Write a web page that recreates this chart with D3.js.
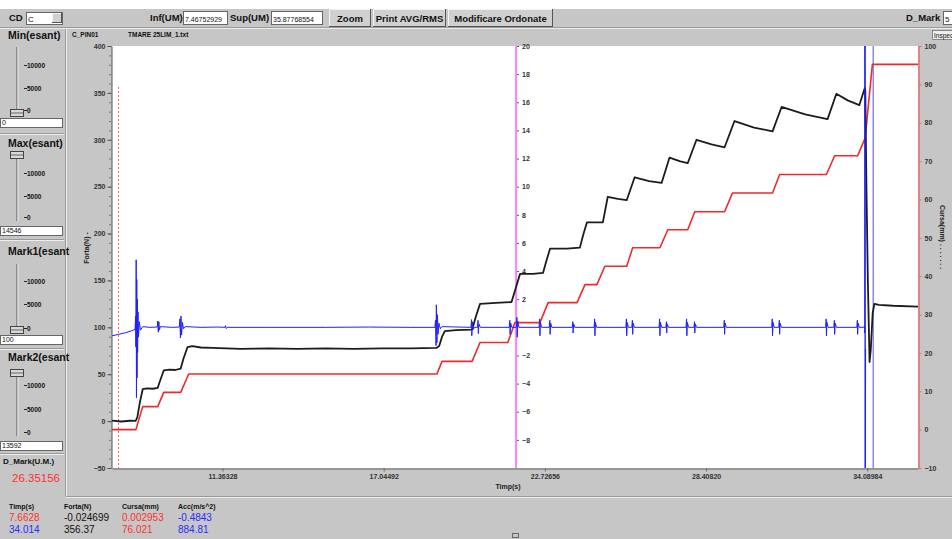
<!DOCTYPE html>
<meta charset="utf-8">
<html>
<head>
<style>
  body { margin: 0; background: #fff; }
  svg { display: block; font-family: "Liberation Sans", Arial, sans-serif; }
</style>
</head>
<body>
<svg width="952" height="539"></svg>
<script src="https://d3js.org/d3.v7.min.js"></script>
<script>

// ---- data ----
var timeDomain = [7.467529297, 35.87768554];
var timeTicks = [11.36328, 17.04492, 22.72656, 28.40820, 34.08984];
var fortaTicks = [400, 350, 300, 250, 200, 150, 100, 50, 0, -50];
var accTicks = [20, 18, 16, 14, 12, 10, 8, 6, 4, 2, -2, -4, -6, -8];
var cursaTicks = [100, 90, 80, 70, 60, 50, 40, 30, 20, 10, 0, -10];

// cursors: mark1, mark2, second blue line, magenta (acc axis)
var mark1Time = 7.6628;
var mark2Time = 34.014;
var blueCursor2 = 34.30;
var accAxisTime = 21.71;

// Forta(N) - black
var forta = [
  [7.47,0.5],[7.8,-0.4],[8.1,0.4],[8.3,0.2],[8.36,4],[8.45,20],[8.55,34],[8.7,35],[8.9,34.5],[9.08,35.5],
  [9.15,42],[9.29,54],[9.5,55],[9.7,54.5],[9.89,56],[9.98,66],[10.13,79],[10.3,80],[10.6,78.5],[11.0,78],
  [12,77],[13,77.5],[14,77],[15,77.5],[16,77],[17,77.5],[18,77.5],[18.9,78],[19.0,80],[19.1,90],
  [19.2,96],[19.6,97],[20.16,97.5],[20.3,112],[20.44,125],[21.0,126],[21.55,127],[21.7,142],[21.85,157],[22.3,157],
  [22.66,158],[22.78,171],[22.91,184],[23.5,184],[23.96,185],[24.08,199],[24.21,212],[24.77,212],[24.94,239],[25.3,237],
  [25.61,235.6],[25.89,260],[26.4,256],[26.84,254],[27.12,281],[27.5,277],[27.76,275],[28.07,300],[28.6,295],[29.06,292],
  [29.41,320],[30.1,313],[30.75,309],[31.07,335],[31.9,327],[32.69,322],[33.0,349],[33.4,342],[33.81,337],[34.0,355],
  [34.02,353],[34.06,250],[34.11,150],[34.17,63],[34.21,75],[34.28,115],[34.34,125],[34.5,124],[35.0,123],[35.88,122]
];

// Cursa(mm) - red
var cursa = [
  [7.47,0.0],[8.31,0.0],[8.55,6.0],[9.08,6.0],[9.29,9.7],[9.89,9.7],[10.17,14.5],[18.92,14.5],[19.10,17.8],[20.16,17.8],
  [20.44,22.7],[21.42,22.7],[21.67,27.9],[22.55,27.9],[22.84,33.1],[23.86,33.1],[24.14,37.8],[24.56,37.8],[24.84,42.6],[25.61,42.6],
  [25.82,47.4],[26.78,47.4],[27.06,52.1],[27.76,52.1],[28.01,56.8],[29.06,56.8],[29.34,61.7],[30.75,61.7],[31.00,66.5],[32.65,66.5],
  [32.94,71.4],[33.75,71.4],[34.014,76.0],[34.27,95.2],[35.88,95.2]
];

// Acc(m/s^2) - blue
var acc = [
  [7.47,-0.6],[7.7,-0.5],[7.95,-0.38],[8.15,-0.25],[8.28,-0.15],
  [8.30,0.8],[8.31,-1.4],[8.32,4.8],[8.33,-5.0],[8.34,3.4],[8.35,-3.6],[8.36,2.0],[8.37,-1.8],[8.385,1.1],[8.40,-0.7],[8.43,0.4],[8.47,-0.2],[8.55,0.05],
  [8.8,0.0],[9.06,0.02],[9.08,0.45],[9.10,-0.35],[9.12,0.4],[9.14,-0.2],[9.17,0.05],
  [9.6,0.0],[9.84,0.02],[9.86,0.6],[9.88,-0.75],[9.90,0.8],[9.92,-0.55],[9.95,0.35],[9.99,-0.1],[10.05,0.05],
  [10.6,0.0],[11.2,0.02],[11.45,0.0],[11.47,0.12],[11.49,-0.08],[11.55,0.0],
  [13,0.0],[15,0.0],[16.5,0.02],[18.0,0.0],[18.85,0.0],
  [18.87,0.5],[18.89,-1.3],[18.90,1.6],[18.92,-1.1],[18.94,0.9],[18.96,-0.5],[18.99,0.3],[19.04,-0.1],[19.1,0.05],
  [20.12,0.0],[20.14,0.55],[20.15,-0.6],[20.17,0.4],[20.2,-0.15],[20.25,0.0],
  [20.35,0.0],[20.37,0.5],[20.38,-0.45],[20.40,0.25],[20.45,0.0],
  [21.47,0.0],[21.49,0.5],[21.50,-0.5],[21.52,0.3],[21.56,0.0],
  [21.72,0.0],[21.74,0.7],[21.75,-0.7],[21.77,0.45],[21.81,0.0],
  [22.52,0.0],[22.54,0.6],[22.55,-0.6],[22.57,0.35],[22.61,0.0],
  [22.88,0.0],[22.90,0.5],[22.91,-0.5],[22.93,0.3],[22.97,0.0],
  [23.69,0.0],[23.71,0.4],[23.72,-0.4],[23.74,0.25],[23.78,0.0],
  [24.46,0.0],[24.48,0.6],[24.49,-0.6],[24.51,0.35],[24.55,0.0],
  [25.58,0.0],[25.60,0.6],[25.61,-0.6],[25.63,0.35],[25.67,0.0],
  [25.79,0.0],[25.81,0.5],[25.82,-0.5],[25.84,0.3],[25.88,0.0],
  [26.75,0.0],[26.77,0.6],[26.78,-0.6],[26.80,0.35],[26.84,0.0],
  [26.99,0.0],[27.01,0.4],[27.02,-0.4],[27.04,0.25],[27.08,0.0],
  [27.70,0.0],[27.72,0.6],[27.73,-0.6],[27.75,0.35],[27.79,0.0],
  [27.98,0.0],[28.00,0.4],[28.01,-0.4],[28.03,0.25],[28.07,0.0],
  [29.03,0.0],[29.05,0.5],[29.06,-0.5],[29.08,0.3],[29.12,0.0],
  [30.72,0.0],[30.74,0.6],[30.75,-0.6],[30.77,0.35],[30.81,0.0],
  [30.97,0.0],[30.99,0.5],[31.00,-0.5],[31.02,0.3],[31.06,0.0],
  [32.62,0.0],[32.64,0.6],[32.65,-0.6],[32.67,0.35],[32.71,0.0],
  [32.91,0.0],[32.93,0.5],[32.94,-0.5],[32.96,0.3],[33.00,0.0],
  [33.72,0.0],[33.74,0.5],[33.75,-0.5],[33.77,0.3],[33.81,0.0],
  [33.96,0.0],[33.99,0.1],[34.0,-0.4],[34.008,24],[34.02,-14],[34.03,-1.5]
];

// readouts under the chart
var readHeaders = ["Timp(s)", "Forta(N)", "Cursa(mm)", "Acc(m/s^2)"];
var readRow1 = ["7.6628", "-0.024699", "0.002953", "-0.4843"];
var readRow2 = ["34.014", "356.37", "76.021", "884.81"];
var readColors1 = ["#ff3030", "#111", "#ff3030", "#2a2aff"];
var readColors2 = ["#2a2aff", "#111", "#ff3030", "#2a2aff"];

var gray = "#c6c6c6";
var svg = d3.select("svg");
var W = 952, H = 539;
var plot = {l: 112, r: 918, t: 46, b: 468};

// ---- window chrome ----
svg.append("rect").attr("width", W).attr("height", H).attr("fill", gray);
svg.append("rect").attr("width", W).attr("height", 9).attr("fill", "#fff");

function hline(x1, x2, y, c) {
  svg.append("line").attr("x1", x1).attr("x2", x2).attr("y1", y).attr("y2", y).attr("stroke", c);
}
function vline(x, y1, y2, c) {
  svg.append("line").attr("x1", x).attr("x2", x).attr("y1", y1).attr("y2", y2).attr("stroke", c);
}
function label(x, y, txt, size, weight, color, anchor) {
  return svg.append("text").attr("x", x).attr("y", y).attr("font-size", size)
    .attr("font-weight", weight || "normal").attr("fill", color || "#111")
    .attr("text-anchor", anchor || "start").text(txt);
}
function button(x, y, w, h, txt) {
  svg.append("rect").attr("x", x).attr("y", y).attr("width", w).attr("height", h).attr("fill", "#d0d0d0");
  hline(x, x + w, y + 0.5, "#f4f4f4");
  vline(x + 0.5, y, y + h, "#f4f4f4");
  hline(x, x + w, y + h - 0.5, "#555");
  vline(x + w - 0.5, y, y + h, "#555");
  label(x + w / 2, y + h / 2 + 3.5, txt, 9.5, "bold", "#111", "middle");
}
function inputBox(x, y, w, h, txt, size) {
  svg.append("rect").attr("x", x + 0.5).attr("y", y + 0.5).attr("width", w).attr("height", h)
    .attr("fill", "#fff").attr("stroke", "#666");
  label(x + 2, y + h - 2, txt, size || 7);
}

// toolbar
label(9, 21, "CD", 9.5, "bold");
inputBox(26, 12, 36, 12, "C", 8);
button(52, 13, 10, 10, "");
label(150, 21, "Inf(UM)", 9.5, "bold");
inputBox(183, 11, 44, 13, "7.46752929", 7);
label(230, 21, "Sup(UM)", 9.5, "bold");
inputBox(271, 11, 51, 13, "35.87768554", 7);
button(329, 9, 42, 18, "Zoom");
button(373, 9, 73, 18, "Print AVG/RMS");
button(448, 9, 105, 18, "Modificare Ordonate");
label(906, 21, "D_Mark", 9.5, "bold");
inputBox(943, 11, 12, 13, "5", 8);
hline(0, W, 27.5, "#9a9a9a");
hline(0, W, 28.5, "#ececec");

// left panel
vline(65.5, 29, 496, "#9a9a9a");
vline(66.5, 29, 496, "#ececec");

var sliders = [
  {title: "Min(esant)", ty: 39, track: [47, 116], thumb: 113, ticks: [68, 91, 113], box: 118, value: "0"},
  {title: "Max(esant)", ty: 147, track: [152, 221], thumb: 155, ticks: [176, 199, 220], box: 226, value: "14546"},
  {title: "Mark1(esant", ty: 255, track: [264, 333], thumb: 330, ticks: [284, 307, 331], box: 335, value: "100"},
  {title: "Mark2(esant", ty: 361, track: [370, 436], thumb: 373, ticks: [388, 412, 435], box: 441, value: "13592"}
];
var tickNames = ["10000", "5000", "0"];
sliders.forEach(function(s) {
  label(8, s.ty, s.title, 10.5, "bold");
  vline(17, s.track[0], s.track[1], "#555");
  vline(18, s.track[0], s.track[1], "#f0f0f0");
  s.ticks.forEach(function(ty, i) {
    hline(24, 27, ty - 2.5, "#222");
    label(27, ty, tickNames[i], 6.5, "bold");
  });
  svg.append("rect").attr("x", 10.5).attr("y", s.thumb - 3.5).attr("width", 13).attr("height", 7)
    .attr("fill", "#d8d8d8").attr("stroke", "#444");
  hline(11, 23, s.thumb, "#666");
  inputBox(0, s.box, 62, 9, s.value, 7);
});
[133, 239, 348, 453].forEach(function(y) {
  hline(0, 64, y + 0.5, "#9a9a9a");
  hline(0, 64, y + 1.5, "#ececec");
});
label(3, 464, "D_Mark(U.M.)", 8, "bold");
label(12, 482, "26.35156", 11.5, "normal", "#ff3030");

// bottom readouts
hline(66, W, 496.5, "#9a9a9a");
hline(66, W, 497.5, "#ececec");
var readX = [9, 64, 122, 178];
readHeaders.forEach(function(t, i) { label(readX[i], 509, t, 7, "bold"); });
readRow1.forEach(function(t, i) { label(readX[i], 521, t, 10, "normal", readColors1[i]); });
readRow2.forEach(function(t, i) { label(readX[i], 533, t, 10, "normal", readColors2[i]); });
svg.append("rect").attr("x", 512.5).attr("y", 533.5).attr("width", 6).attr("height", 4)
  .attr("fill", "none").attr("stroke", "#666");

// chart titles
label(72, 37, "C_PIN01", 6.5, "bold");
label(128, 37, "TMARE 25LIM_1.txt", 6.5, "bold");
svg.append("rect").attr("x", 932.5).attr("y", 30.5).attr("width", 22).attr("height", 9)
  .attr("fill", "#eee").attr("stroke", "#888");
label(934, 38, "Inspec", 6.5);

// ---- plot ----
svg.append("rect").attr("x", plot.l).attr("y", plot.t).attr("width", plot.r - plot.l)
  .attr("height", plot.b - plot.t).attr("fill", "#fff");

var x = d3.scaleLinear().domain(timeDomain).range([plot.l, plot.r]);
var yF = d3.scaleLinear().domain([-50, 400]).range([plot.b, plot.t]);
var yA = d3.scaleLinear().domain([-10, 20]).range([plot.b, plot.t]);
var yC = d3.scaleLinear().domain([-10, 100]).range([plot.b, plot.t]);

function styleAxis(g, color) {
  g.selectAll("text").attr("font-size", 7).attr("font-weight", "bold").attr("fill", "#333")
    .attr("font-family", "Liberation Sans, Arial, sans-serif");
  g.selectAll("line").attr("stroke", color);
  g.select(".domain").attr("stroke", color);
}

// left axis (Forta)
var gMinor = svg.append("g").attr("transform", "translate(" + (plot.l - 1) + ",0)")
  .call(d3.axisLeft(yF).tickValues(yF.ticks(45)).tickSize(2).tickSizeOuter(0).tickFormat(""));
gMinor.selectAll("line").attr("stroke", "#777");
gMinor.select(".domain").remove();
var gL = svg.append("g").attr("transform", "translate(" + (plot.l - 0.5) + ",0)")
  .call(d3.axisLeft(yF).tickValues(fortaTicks).tickSize(4).tickSizeOuter(0).tickPadding(2));
styleAxis(gL, "#555");

// bottom axis (Timp)
var gB = svg.append("g").attr("transform", "translate(0," + (plot.b + 0.5) + ")")
  .call(d3.axisBottom(x).tickValues(timeTicks).tickFormat(d3.format(".5f")).tickSize(3).tickSizeOuter(0).tickPadding(3));
styleAxis(gB, "#666");

// right axis (Cursa)
var gR = svg.append("g").attr("transform", "translate(" + (plot.r + 0.5) + ",0)")
  .call(d3.axisRight(yC).tickValues(cursaTicks).tickSize(3).tickSizeOuter(0).tickPadding(3));
styleAxis(gR, "#e07070");
gR.select(".domain").attr("stroke-width", 1.5);

// axis titles
svg.append("text").attr("transform", "translate(89,248) rotate(-90)").attr("text-anchor", "middle")
  .attr("font-size", 7).attr("font-weight", "bold").attr("fill", "#222").text("Forta(N) -");
svg.append("text").attr("transform", "translate(940,205) rotate(90)").attr("text-anchor", "start")
  .attr("font-size", 7).attr("font-weight", "bold").attr("fill", "#222").text("Cursa(mm) . . . . . . .");
label(508, 489, "Timp(s)", 7, "bold", "#222", "middle");

// cursor lines
var m1x = Math.round(x(mark1Time)) + 0.5;
svg.append("line").attr("x1", m1x).attr("x2", m1x)
  .attr("y1", yF(356.37)).attr("y2", plot.b).attr("stroke", "#ff5a5a")
  .attr("stroke-width", 1).attr("stroke-dasharray", "2,2");
svg.append("line").attr("x1", x(accAxisTime)).attr("x2", x(accAxisTime))
  .attr("y1", plot.t).attr("y2", plot.b).attr("stroke", "#ff80ff").attr("stroke-width", 2);

// middle axis (Acc) on the magenta line
var gM = svg.append("g").attr("transform", "translate(" + (x(accAxisTime) + 1) + ",0)")
  .call(d3.axisRight(yA).tickValues(accTicks).tickSize(2).tickSizeOuter(0).tickPadding(3));
styleAxis(gM, "#555");
gM.select(".domain").remove();

svg.append("defs").append("clipPath").attr("id", "clip").append("rect")
  .attr("x", plot.l).attr("y", plot.t).attr("width", plot.r - plot.l).attr("height", plot.b - plot.t);
var gPlot = svg.append("g").attr("clip-path", "url(#clip)");

[mark2Time, blueCursor2].forEach(function(t) {
  gPlot.append("line").attr("x1", x(t)).attr("x2", x(t)).attr("y1", plot.t).attr("y2", plot.b)
    .attr("stroke", "#8888ff").attr("stroke-width", 1.5);
});

var lineF = d3.line().x(function(d) { return x(d[0]); }).y(function(d) { return yF(d[1]); });
var lineC = d3.line().x(function(d) { return x(d[0]); }).y(function(d) { return yC(d[1]); });
var lineA = d3.line().x(function(d) { return x(d[0]); }).y(function(d) { return yA(d[1]); });

gPlot.append("path").datum(cursa).attr("d", lineC).attr("fill", "none")
  .attr("stroke", "#ee2a2a").attr("stroke-width", 1.6).attr("stroke-linejoin", "round");
gPlot.append("path").datum(forta).attr("d", lineF).attr("fill", "none")
  .attr("stroke", "#1c1c1c").attr("stroke-width", 1.8).attr("stroke-linejoin", "round");
gPlot.append("path").datum(acc).attr("d", lineA).attr("fill", "none")
  .attr("stroke", "#1f1fff").attr("stroke-width", 1);

</script>
</body>
</html>
